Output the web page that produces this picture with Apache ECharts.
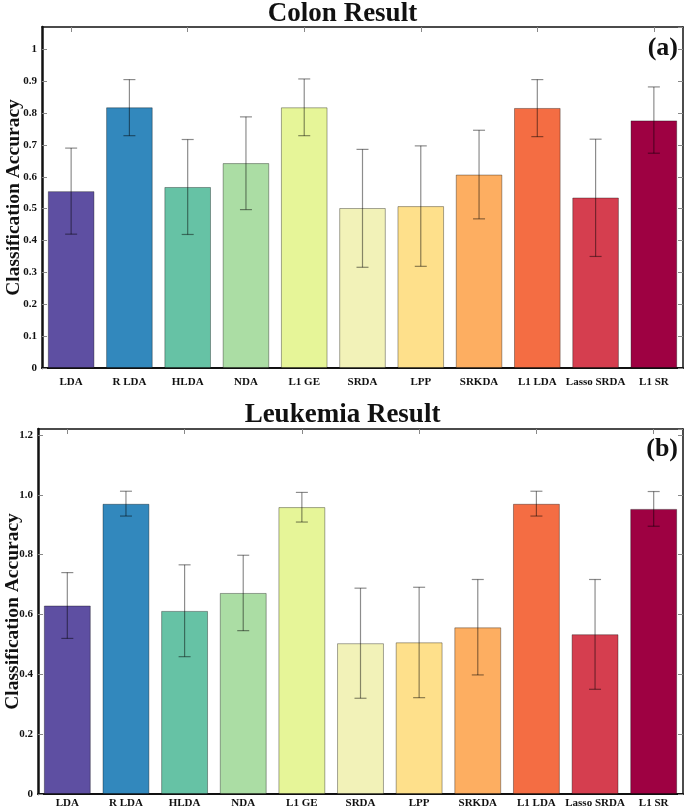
<!DOCTYPE html>
<html>
<head>
<meta charset="utf-8">
<script src="https://cdn.jsdelivr.net/npm/echarts@6/dist/echarts.min.js"></script>
<style>
html,body{margin:0;padding:0;background:#fff;}
#main{width:685px;height:808px;}
</style>
</head>
<body>
<div id="main"></div>
<script>
var categories = ['LDA','R LDA','HLDA','NDA','L1 GE','SRDA','LPP','SRKDA','L1 LDA','Lasso SRDA','L1 SR'];
var colors = ['#5e4fa2','#3288bd','#66c2a5','#abdda4','#e6f598','#f2f2b8','#fee08b','#fdae61','#f46d43','#d53e4f','#9e0142'];

var colonMean = [0.555,0.818,0.568,0.643,0.818,0.502,0.508,0.607,0.816,0.535,0.777];
var colonLow  = [0.420,0.729,0.419,0.497,0.729,0.316,0.319,0.468,0.726,0.350,0.674];
var colonHigh = [0.690,0.905,0.717,0.788,0.907,0.686,0.697,0.746,0.905,0.718,0.882];

var leukMean = [0.630,0.970,0.612,0.672,0.959,0.504,0.507,0.557,0.970,0.534,0.953];
var leukLow  = [0.520,0.929,0.459,0.546,0.909,0.320,0.322,0.398,0.929,0.350,0.895];
var leukHigh = [0.740,1.012,0.766,0.798,1.008,0.688,0.691,0.717,1.012,0.717,1.011];

var colonTitle = 'Colon Result';
var leukTitle = 'Leukemia Result';
var yName = 'Classification Accuracy';

var FONT = '"Liberation Serif", "Times New Roman", serif';

function barData(vals){
  return vals.map(function(v,i){ return {value:v, itemStyle:{color:colors[i]}}; });
}
function errData(low, high){
  return low.map(function(l,i){ return [i, l, high[i]]; });
}
function renderErr(params, api){
  var x = api.value(0);
  var lo = api.coord([x, api.value(1)]);
  var hi = api.coord([x, api.value(2)]);
  var hw = 6;
  var st = {stroke:'rgba(0,0,0,0.45)', lineWidth:1.2};
  return {type:'group', children:[
    {type:'line', shape:{x1:lo[0],y1:lo[1],x2:hi[0],y2:hi[1]}, style:st},
    {type:'line', shape:{x1:lo[0]-hw,y1:lo[1],x2:lo[0]+hw,y2:lo[1]}, style:st},
    {type:'line', shape:{x1:hi[0]-hw,y1:hi[1],x2:hi[0]+hw,y2:hi[1]}, style:st}
  ]};
}

var labelStyle = {fontFamily:FONT, fontWeight:'bold', fontSize:11, color:'#111'};

function xBottom(gi, margin){
  return {type:'category', gridIndex:gi, data:categories, position:'bottom',
    axisLine:{show:true, onZero:false, lineStyle:{color:'#111', width:2}},
    axisTick:{show:false},
    axisLabel:Object.assign({margin:margin, interval:0}, labelStyle)};
}
function xTop(gi){
  return {type:'category', gridIndex:gi, data:categories, position:'top',
    axisLine:{show:true, onZero:false, lineStyle:{color:'#111', width:1.5}},
    axisTick:{show:true, inside:true, alignWithLabel:true, length:5, lineStyle:{color:'#888'}},
    axisLabel:{show:false}};
}
function yLeft(gi, max, interval, fmt, gap){
  return {type:'value', gridIndex:gi, min:0, max:max, interval:interval, position:'left',
    name:yName, nameLocation:'middle', nameGap:gap, nameMoveOverlap:false,
    nameTextStyle:{fontFamily:FONT, fontWeight:'bold', fontSize:19.5, color:'#111'},
    axisLine:{show:true, onZero:false, lineStyle:{color:'#111', width:2.5}},
    axisTick:{show:true, inside:true, length:5, lineStyle:{color:'#888'}},
    splitLine:{show:false},
    axisLabel:Object.assign({margin:5, showMaxLabel:false, formatter:fmt}, labelStyle)};
}
function yRight(gi, max, interval){
  return {type:'value', gridIndex:gi, min:0, max:max, interval:interval, position:'right',
    axisLine:{show:true, onZero:false, lineStyle:{color:'#111', width:1.5}},
    axisTick:{show:true, inside:true, length:5, lineStyle:{color:'#888'}},
    splitLine:{show:false}, axisLabel:{show:false}};
}

var chart = echarts.init(document.getElementById('main'));
chart.setOption({
  backgroundColor:'#fff',
  animation:false,
  grid:[
    {left:42, right:2, top:27, height:341, containLabel:false, outerBoundsMode:'none'},
    {left:38, right:2, top:429, height:365, containLabel:false, outerBoundsMode:'none'}
  ],
  xAxis:[xBottom(0, 9), xTop(0), xBottom(1, 4), xTop(1)],
  yAxis:[
    yLeft(0, 1.07, 0.1, function(v){ return String(Math.round(v*10)/10); }, 18),
    yRight(0, 1.07, 0.1),
    yLeft(1, 1.22, 0.2, function(v){ return v===0 ? '0' : v.toFixed(1); }, 15),
    yRight(1, 1.22, 0.2)
  ],
  series:[
    {type:'bar', xAxisIndex:0, yAxisIndex:0, data:barData(colonMean), barWidth:'80%',
     itemStyle:{borderColor:'rgba(0,0,0,0.35)', borderWidth:1}},
    {type:'custom', xAxisIndex:0, yAxisIndex:0, data:errData(colonLow,colonHigh), renderItem:renderErr, z:5},
    {type:'bar', xAxisIndex:2, yAxisIndex:2, data:barData(leukMean), barWidth:'80%',
     itemStyle:{borderColor:'rgba(0,0,0,0.35)', borderWidth:1}},
    {type:'custom', xAxisIndex:2, yAxisIndex:2, data:errData(leukLow,leukHigh), renderItem:renderErr, z:5}
  ],
  graphic:[
    {type:'text', left:'center', top:1, style:{text:colonTitle, font:'bold 27px '+FONT, fill:'#111'}},
    {type:'text', left:'center', top:402, style:{text:leukTitle, font:'bold 27px '+FONT, fill:'#111'}},
    {type:'text', right:7, top:35, style:{text:'(a)', font:'bold 26px '+FONT, fill:'#111'}},
    {type:'text', right:7, top:436, style:{text:'(b)', font:'bold 26px '+FONT, fill:'#111'}}
  ]
});
</script>
</body>
</html>
